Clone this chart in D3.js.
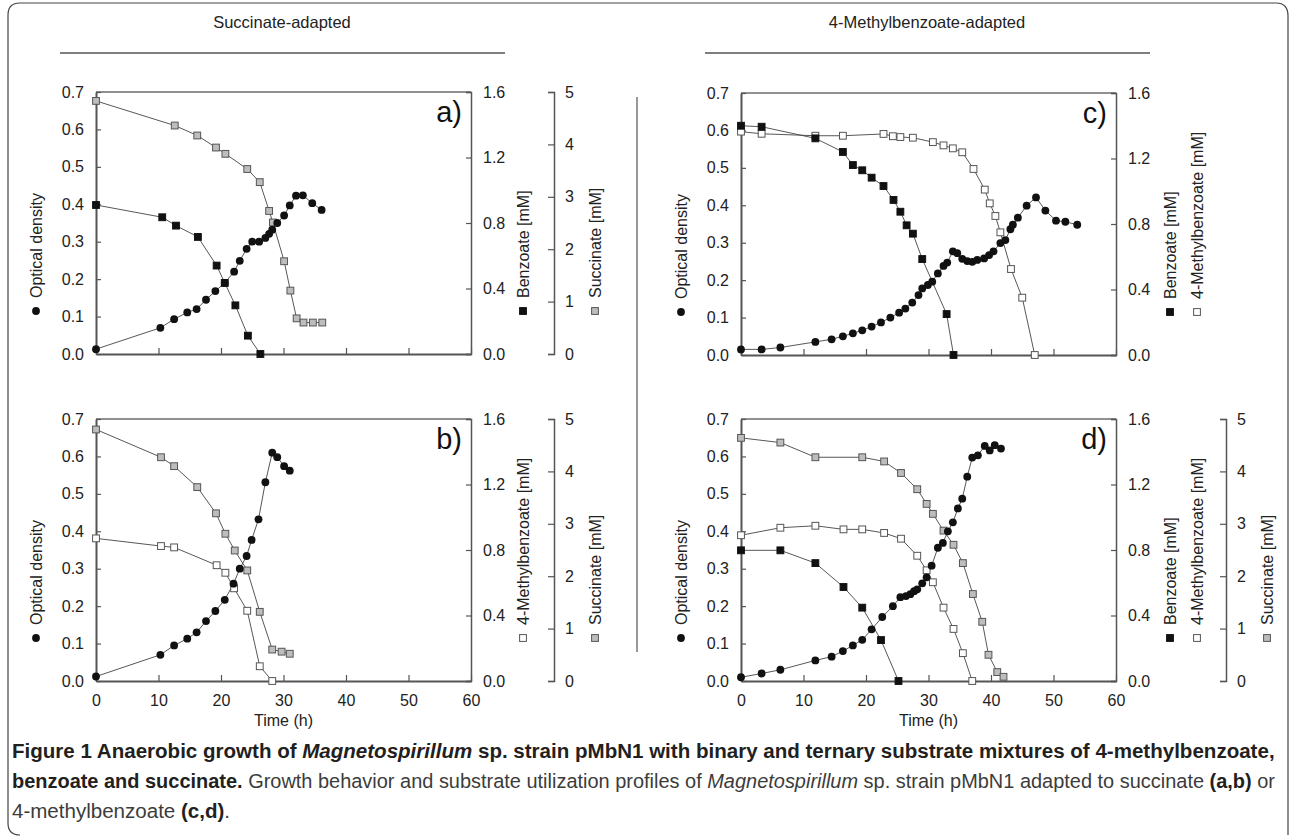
<!DOCTYPE html>
<html>
<head>
<meta charset="utf-8">
<script src="https://cdn.jsdelivr.net/npm/d3@7"></script>
<style>
  body { margin: 0; background: #fff; }
  svg { display: block; font-family: "Liberation Sans", Arial, sans-serif; }
  .cap { font-family: "Liberation Sans", Arial, sans-serif; fill: #231f20; }
</style>
</head>
<body>
<svg id="chart" width="1290" height="839"></svg>
<script>
// time (h), value pairs
const aOD = [[0,0.013],[10.3,0.070],[12.5,0.093],[14.6,0.111],[16.1,0.120],[17.6,0.145],[19.1,0.168],[20.6,0.190],[22.1,0.220],[23,0.249],[24.1,0.281],[25,0.300],[26.1,0.300],[27.1,0.310],[27.7,0.321],[28.2,0.332],[29,0.350],[30.1,0.370],[31,0.397],[32,0.423],[33.1,0.424],[34.6,0.403],[36.1,0.385]];
const aBenzoate = [[0,0.91],[10.6,0.835],[12.8,0.784],[16.3,0.715],[19.3,0.54],[20.6,0.434],[22.3,0.297],[24.3,0.112],[26.3,0]];
const aSuccinate = [[0,4.83],[12.6,4.36],[16.2,4.17],[19.2,3.94],[20.7,3.82],[24.2,3.53],[26.2,3.28],[27.7,2.73],[28.3,2.51],[30.1,1.77],[31.1,1.21],[32.1,0.68],[33.2,0.60],[34.7,0.60],[36.2,0.60]];

const bOD = [[0,0.012],[10.3,0.070],[12.5,0.095],[14.6,0.113],[16.1,0.130],[17.6,0.160],[19.1,0.187],[20.6,0.217],[22,0.260],[23,0.300],[24.1,0.334],[24.9,0.377],[26,0.432],[27.1,0.531],[28.2,0.610],[29,0.598],[30.1,0.574],[31,0.562]];
const bMethylbenzoate = [[0,0.871],[10.4,0.824],[12.5,0.816],[19.3,0.707],[20.7,0.661],[22.1,0.566],[24.2,0.429],[26.2,0.09],[28.2,0]];
const bSuccinate = [[0,4.80],[10.4,4.27],[12.5,4.10],[16.2,3.70],[19.2,3.20],[20.7,2.81],[22.2,2.49],[24.2,2.11],[26.2,1.32],[28.2,0.60],[29.7,0.56],[31,0.52]];

const cOD = [[0,0.015],[3.3,0.015],[6.3,0.020],[11.9,0.035],[14.5,0.042],[16.3,0.050],[17.9,0.058],[19.4,0.066],[20.9,0.076],[22.4,0.087],[23.9,0.100],[25.3,0.113],[26.3,0.124],[27.4,0.140],[28.4,0.160],[29,0.178],[29.9,0.187],[30.6,0.196],[31.5,0.218],[32.4,0.238],[33,0.247],[33.9,0.277],[34.6,0.272],[35.4,0.257],[36.2,0.251],[37,0.249],[37.8,0.254],[38.9,0.258],[39.7,0.267],[40.4,0.277],[41.5,0.299],[42.3,0.307],[43.1,0.336],[43.5,0.348],[44.3,0.367],[45.7,0.399],[47.2,0.421],[48.7,0.386],[50.4,0.359],[51.9,0.356],[53.8,0.348]];
const cBenzoate = [[0,1.40],[3.3,1.394],[11.9,1.323],[16.3,1.24],[17.9,1.16],[19.4,1.128],[20.9,1.083],[22.8,1.032],[24.4,0.947],[25.5,0.875],[26.5,0.792],[27.5,0.741],[29,0.586],[32.9,0.25],[34,0]];
const cMethylbenzoate = [[0,1.364],[3.3,1.351],[11.9,1.339],[16.3,1.339],[22.8,1.35],[24.3,1.336],[25.5,1.331],[27.5,1.327],[30.7,1.30],[32.4,1.28],[33.9,1.262],[35.4,1.238],[37.2,1.136],[39,1.01],[39.8,0.926],[40.7,0.849],[41.5,0.749],[43.2,0.525],[45,0.35],[47,0]];

const dOD = [[0,0.010],[3.3,0.020],[6.3,0.030],[11.9,0.055],[14.5,0.065],[16.3,0.080],[17.9,0.095],[19.4,0.110],[20.9,0.138],[22.6,0.171],[24.3,0.200],[25.5,0.224],[26.4,0.227],[27.1,0.232],[27.7,0.240],[28.2,0.245],[29,0.261],[29.7,0.277],[30.5,0.308],[31.5,0.356],[32.3,0.369],[33.1,0.400],[33.9,0.424],[34.7,0.461],[35.4,0.487],[36.2,0.546],[37,0.597],[37.9,0.603],[39,0.628],[39.8,0.616],[40.6,0.630],[41.6,0.621]];
const dBenzoate = [[0,0.798],[6.3,0.798],[11.9,0.72],[16.4,0.574],[19.4,0.448],[22.4,0.25],[25.2,0]];
const dMethylbenzoate = [[0,0.89],[6.3,0.936],[11.9,0.948],[16.4,0.926],[19.4,0.926],[22.9,0.904],[25.6,0.869],[28.2,0.765],[29.7,0.676],[30.7,0.603],[32.4,0.448],[34,0.318],[35.5,0.17],[37,0]];
const dSuccinate = [[0,4.64],[6.3,4.55],[11.9,4.27],[19.4,4.27],[22.9,4.19],[25.6,3.97],[28.2,3.66],[29.7,3.38],[30.7,3.19],[32.4,2.87],[34,2.60],[35.5,2.25],[37.1,1.66],[38.6,1.13],[39.6,0.50],[41,0.17],[42,0.08]];

const odTicks = [0, 0.1, 0.2, 0.3, 0.4, 0.5, 0.6, 0.7];
const mMTicks = [0, 0.4, 0.8, 1.2, 1.6];
const succTicks = [0, 1, 2, 3, 4, 5];
const timeTicks = [0, 10, 20, 30, 40, 50, 60];
const headers = ["Succinate-adapted", "4-Methylbenzoate-adapted"];

const svg = d3.select("#chart");
const grey = "#555";
const FONT = '"Liberation Sans", Arial, sans-serif';

// outer frame and headers
svg.append("path")
  .attr("d", "M1288,835 V16 Q1288,3 1276,3 H20 Q8,3 8,15 V823 Q8,835 20,835")
  .attr("fill", "none").attr("stroke", "#444").attr("stroke-width", 1.2);

[[282, 60, 505], [927, 705, 1150]].forEach(([cx, x0, x1], i) => {
  svg.append("text").attr("x", cx).attr("y", 28).attr("text-anchor", "middle")
    .style("font-size", "16.5px").attr("fill", "#222").text(headers[i]);
  svg.append("line").attr("x1", x0).attr("x2", x1).attr("y1", 53).attr("y2", 53)
    .attr("stroke", grey).attr("stroke-width", 1.5);
});
svg.append("line").attr("x1", 637).attr("x2", 637).attr("y1", 97).attr("y2", 652)
  .attr("stroke", "#333").attr("stroke-width", 1);

const styles = {
  od: { shape: "circle" },
  benz: { shape: "square", fill: "#111", stroke: "#111" },
  mb: { shape: "square", fill: "#fff", stroke: grey },
  succ: { shape: "square", fill: "#bdbdbd", stroke: grey }
};

function marker(g, kind, x, y) {
  const s = styles[kind];
  if (s.shape === "circle") {
    g.append("circle").attr("cx", x).attr("cy", y).attr("r", 3.9).attr("fill", "#111");
  } else {
    g.append("rect").attr("x", x - 3.4).attr("y", y - 3.4).attr("width", 6.8).attr("height", 6.8)
      .attr("fill", s.fill).attr("stroke", s.stroke).attr("stroke-width", 1);
  }
}

function axisTitle(g, kind, label, x, y) {
  marker(g, kind, x, y);
  g.append("text").attr("transform", `translate(${x},${y - 13}) rotate(-90)`)
    .attr("dominant-baseline", "central").style("font-size", "16px").attr("fill", "#222")
    .text(label);
}

function styleAxis(sel, domainWidth) {
  sel.attr("font-family", FONT).attr("font-size", 16);
  sel.selectAll(".tick text").attr("fill", "#222");
  sel.select(".domain").attr("stroke", grey).attr("stroke-width", domainWidth);
  sel.selectAll(".tick line").attr("stroke", grey).attr("stroke-width", 1.2);
}

const panels = [
  { id: "a)", left: 96, top: 92, xLabels: false,
    series: [["succ", aSuccinate], ["benz", aBenzoate], ["od", aOD]],
    right: [{ kind: "benz", label: "Benzoate [mM]", tx: 523 },
            { kind: "succ", label: "Succinate [mM]", ax: 554, tx: 595 }] },
  { id: "b)", left: 96, top: 419, xLabels: true,
    series: [["succ", bSuccinate], ["mb", bMethylbenzoate], ["od", bOD]],
    right: [{ kind: "mb", label: "4-Methylbenzoate [mM]", tx: 523 },
            { kind: "succ", label: "Succinate [mM]", ax: 554, tx: 595 }] },
  { id: "c)", left: 741, top: 93, xLabels: false,
    series: [["mb", cMethylbenzoate], ["benz", cBenzoate], ["od", cOD]],
    right: [{ kind: "benz", label: "Benzoate [mM]", tx: 1170 },
            { kind: "mb", label: "4-Methylbenzoate [mM]", tx: 1197 }] },
  { id: "d)", left: 741, top: 419, xLabels: true,
    series: [["succ", dSuccinate], ["mb", dMethylbenzoate], ["benz", dBenzoate], ["od", dOD]],
    right: [{ kind: "benz", label: "Benzoate [mM]", tx: 1170 },
            { kind: "mb", label: "4-Methylbenzoate [mM]", tx: 1197 },
            { kind: "succ", label: "Succinate [mM]", ax: 1226, tx: 1267 }] }
];

const W = 375, H = 262;

panels.forEach(p => {
  const g = svg.append("g");
  const x = d3.scaleLinear().domain([0, 60]).range([p.left, p.left + W]);
  const yOD = d3.scaleLinear().domain([0, 0.7]).range([p.top + H, p.top]);
  const yMM = d3.scaleLinear().domain([0, 1.6]).range([p.top + H, p.top]);
  const ySucc = d3.scaleLinear().domain([0, 5]).range([p.top + H, p.top]);
  const yFor = { od: yOD, benz: yMM, mb: yMM, succ: ySucc };

  // top border
  g.append("line").attr("x1", p.left).attr("x2", p.left + W).attr("y1", p.top).attr("y2", p.top)
    .attr("stroke", "#222").attr("stroke-width", 1);

  // right mM axis on the frame
  g.append("g").attr("transform", `translate(${p.left + W},0)`)
    .call(d3.axisRight(yMM).tickValues(mMTicks).tickFormat(d3.format(".1f")).tickSize(-5).tickPadding(12))
    .call(styleAxis, 1.5);

  // separate succinate axis
  p.right.filter(r => r.ax).forEach(r => {
    g.append("g").attr("transform", `translate(${r.ax},0)`)
      .call(d3.axisRight(ySucc).tickValues(succTicks).tickFormat(d3.format("d")).tickSize(-6).tickPadding(11))
      .call(styleAxis, 1.5);
  });

  g.append("g").attr("transform", `translate(${p.left},0)`)
    .call(d3.axisLeft(yOD).tickValues(odTicks).tickFormat(d3.format(".1f")).tickSize(-5).tickSizeOuter(0).tickPadding(12))
    .call(styleAxis, 2);

  g.append("g").attr("transform", `translate(0,${p.top + H})`)
    .call(d3.axisBottom(x).tickValues(timeTicks).tickSize(-6).tickSizeOuter(0).tickPadding(14)
      .tickFormat(p.xLabels ? d3.format("d") : ""))
    .call(styleAxis, 2);

  if (p.xLabels) {
    g.append("text").attr("x", p.left + W / 2).attr("y", 726).attr("text-anchor", "middle")
      .style("font-size", "16px").attr("fill", "#222").text("Time (h)");
  }

  // series: lines then markers
  const line = d3.line();
  p.series.forEach(([kind, data]) => {
    const y = yFor[kind];
    g.append("path").attr("d", line(data.map(d => [x(d[0]), y(d[1])])))
      .attr("fill", "none").attr("stroke", "#444").attr("stroke-width", 0.9);
  });
  p.series.forEach(([kind, data]) => {
    const y = yFor[kind];
    data.forEach(d => marker(g, kind, x(d[0]), y(d[1])));
  });

  g.append("text").attr("x", p.left + W - 9).attr("y", p.top + 30).attr("text-anchor", "end")
    .style("font-size", "29px").attr("fill", "#111").text(p.id);

  // axis titles with legend symbols
  const my = p.top + H - 43;
  axisTitle(g, "od", "Optical density", p.left - 60, my);
  p.right.forEach(r => axisTitle(g, r.kind, r.label, r.tx, my));
});

// caption: a condensed look by squeezing each line horizontally
const cap = svg.append("g").attr("class", "cap");
const capLines = [
  [["Figure 1 Anaerobic growth of ", "b"], ["Magnetospirillum", "bi"], [" sp. strain pMbN1 with binary and ternary substrate mixtures of 4-methylbenzoate,", "b"]],
  [["benzoate and succinate.", "b"], [" Growth behavior and substrate utilization profiles of ", "r"], ["Magnetospirillum", "i"], [" sp. strain pMbN1 adapted to succinate ", "r"], ["(a,b)", "b"], [" or", "r"]],
  [["4-methylbenzoate ", "r"], ["(c,d)", "b"], [".", "r"]]
];
const capTexts = capLines.map((parts, i) => {
  const t = cap.append("text").style("font-size", "19.5px");
  parts.forEach(([s, st]) => {
    t.append("tspan").text(s)
      .style("font-weight", st.includes("b") ? "bold" : "normal")
      .style("font-style", st.includes("i") ? "italic" : "normal")
      .attr("fill", st.includes("b") ? "#231f20" : "#3c3c3c");
  });
  return t;
});
const sx0 = 1264 / capTexts[0].node().getComputedTextLength();
const sx1 = 1264 / capTexts[1].node().getComputedTextLength();
[sx0, sx1, sx0].forEach((sx, i) => {
  capTexts[i].attr("transform", `translate(12,${758 + i * 30}) scale(${sx},1)`);
});
</script>
</body>
</html>
